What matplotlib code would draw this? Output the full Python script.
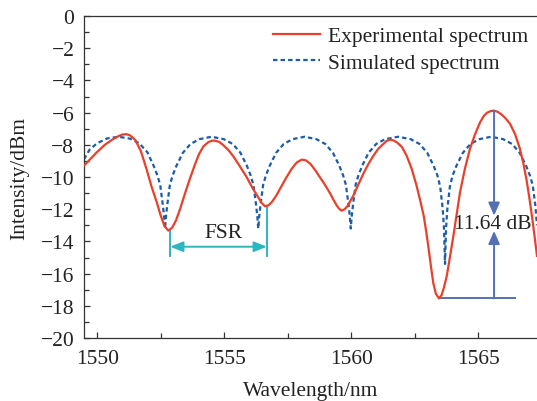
import matplotlib
matplotlib.use("Agg")
import matplotlib.pyplot as plt
from matplotlib.ticker import MultipleLocator
import numpy as np

# experimental spectrum
exp_x = [1549.48, 1549.75, 1549.98, 1550.3, 1550.63, 1550.85, 1551.0, 1551.15, 1551.3,
         1551.5, 1551.72, 1551.94, 1552.14, 1552.34, 1552.5, 1552.65, 1552.8, 1552.95,
         1553.1, 1553.26, 1553.45, 1553.65, 1553.83, 1554.0, 1554.18, 1554.36, 1554.5,
         1554.63, 1554.8, 1554.95, 1555.15, 1555.35, 1555.6, 1555.88, 1556.1, 1556.33,
         1556.47, 1556.6, 1556.75, 1556.9, 1557.05, 1557.19, 1557.42, 1557.65, 1557.85,
         1558.05, 1558.22, 1558.4, 1558.6, 1558.78, 1558.97, 1559.16, 1559.3, 1559.42,
         1559.52, 1559.62, 1559.74, 1559.85, 1560.08, 1560.27, 1560.47, 1560.67, 1560.87,
         1561.06, 1561.26, 1561.4, 1561.52, 1561.65, 1561.8, 1562.0, 1562.18, 1562.38,
         1562.57, 1562.72, 1562.85, 1562.95, 1563.04, 1563.14, 1563.23, 1563.33, 1563.45,
         1563.55, 1563.65, 1563.76, 1563.88, 1564.02, 1564.15, 1564.28, 1564.47, 1564.67,
         1564.87, 1565.07, 1565.22, 1565.35, 1565.5, 1565.62, 1565.76, 1565.9, 1566.07,
         1566.25, 1566.45, 1566.64, 1566.78, 1566.9, 1567.0, 1567.1, 1567.2, 1567.31]
exp_y = [-9.3, -8.85, -8.47, -8.0, -7.64, -7.45, -7.36, -7.34, -7.42,
         -7.7, -8.4, -9.5, -10.6, -11.55, -12.4, -13.05, -13.33, -13.15,
         -12.7, -12.0, -11.05, -10.1, -9.3, -8.6, -8.1, -7.85, -7.75,
         -7.74, -7.82, -8.0, -8.3, -8.7, -9.3, -10.0, -10.65, -11.24,
         -11.6, -11.82, -11.75, -11.5, -11.15, -10.75, -10.1, -9.5, -9.1,
         -8.92, -8.97, -9.2, -9.62, -10.05, -10.5, -11.0, -11.42, -11.75,
         -11.97, -12.09, -12.0, -11.8, -11.16, -10.5, -9.81, -9.2, -8.68,
         -8.25, -7.95, -7.75, -7.68, -7.72, -7.85, -8.15, -8.68, -9.5,
         -10.54, -11.5, -12.4, -13.4, -14.4, -15.6, -16.6, -17.25, -17.54,
         -17.35, -16.85, -16.13, -15.0, -13.65, -12.3, -10.95, -9.5, -8.26,
         -7.35, -6.6, -6.2, -6.0, -5.9, -5.88, -5.95, -6.1, -6.35,
         -6.7, -7.35, -8.26, -9.2, -10.2, -11.2, -12.3, -13.5, -14.9]

# simulated spectrum
sim_x = [1549.48, 1549.7, 1550.0, 1550.4, 1550.85, 1551.3, 1551.65, 1551.97, 1552.22,
         1552.37, 1552.48, 1552.58, 1552.63, 1552.67, 1552.71, 1552.76, 1552.86, 1552.97,
         1553.12, 1553.37, 1553.67, 1554.02, 1554.5, 1554.98, 1555.34, 1555.64, 1555.89,
         1556.04, 1556.15, 1556.25, 1556.30, 1556.34, 1556.38, 1556.43, 1556.53, 1556.64,
         1556.79, 1557.04, 1557.34, 1557.69, 1558.16, 1558.63, 1558.98, 1559.28, 1559.53,
         1559.68, 1559.79, 1559.89, 1559.94, 1559.98, 1560.02, 1560.07, 1560.17, 1560.28,
         1560.43, 1560.68, 1560.98, 1561.33, 1561.84, 1562.34, 1562.69, 1562.99, 1563.24,
         1563.39, 1563.50, 1563.60, 1563.65, 1563.69, 1563.73, 1563.78, 1563.88, 1563.99,
         1564.14, 1564.39, 1564.69, 1565.04, 1565.51, 1565.98, 1566.33, 1566.63, 1566.88,
         1567.03, 1567.14, 1567.24, 1567.31]
sim_y = [-8.9, -8.3, -7.9, -7.6, -7.5, -7.62, -7.9, -8.45, -9.3,
         -9.9, -10.5, -11.7, -12.4, -13.2, -12.4, -11.7, -10.5, -9.9,
         -9.3, -8.5, -7.95, -7.65, -7.5, -7.65, -7.95, -8.5, -9.3,
         -9.9, -10.5, -11.7, -12.4, -13.2, -12.4, -11.7, -10.5, -9.9,
         -9.3, -8.5, -7.95, -7.65, -7.5, -7.65, -7.95, -8.5, -9.3,
         -9.9, -10.5, -11.7, -12.4, -13.2, -12.4, -11.7, -10.5, -9.9,
         -9.3, -8.5, -7.95, -7.65, -7.5, -7.65, -7.95, -8.5, -9.3,
         -9.9, -10.6, -12.0, -13.2, -15.4, -13.2, -12.0, -10.6, -9.9,
         -9.3, -8.5, -7.95, -7.65, -7.5, -7.65, -7.95, -8.5, -9.3,
         -9.9, -10.5, -11.7, -13.0]

x_ticks = [1550, 1555, 1560, 1565]
y_ticks = list(range(-20, 1, 2))

plt.rcParams["font.family"] = ["Liberation Serif", "DejaVu Serif"]
plt.rcParams["font.size"] = 15.5

red = "#e8412b"
blue = "#1d5ca8"
cyan = "#2bb6c0"
ann = "#5470b4"

fig = plt.figure(figsize=(5.37, 4.02), dpi=100)
ax = fig.add_axes([0.1564, 0.1567, 0.8436, 0.801])

ax.plot(exp_x, exp_y, color=red, lw=1.6, label="Experimental spectrum", zorder=3)
ax.plot(sim_x, sim_y, color=blue, lw=1.6, dashes=(2.0, 1.4), label="Simulated spectrum", zorder=2)

ax.set_xlim(1549.48, 1567.31)
ax.set_ylim(-20, 0)
ax.set_xticks(x_ticks)
ax.set_yticks(y_ticks)
ax.xaxis.set_minor_locator(MultipleLocator(2.5))
ax.yaxis.set_minor_locator(MultipleLocator(1))
ax.tick_params(which="both", direction="in", color="#333333", labelcolor="#222222")
ax.tick_params(which="major", length=4.5, width=0.9)
ax.tick_params(which="minor", length=3.5, width=0.9)
ax.tick_params(axis="x", pad=8)
ax.tick_params(axis="y", pad=7)
ax.spines["right"].set_visible(False)
for s in ["left", "bottom", "top"]:
    ax.spines[s].set_color("#333333")
    ax.spines[s].set_linewidth(0.9)

ax.set_xlabel("Wavelength/nm", color="#222222", labelpad=9.5)
ax.set_ylabel("Intensity/dBm", color="#222222", labelpad=8)

ax.legend(loc="upper left", bbox_to_anchor=(0.417, 0.968), frameon=False,
          handlelength=2.2, handletextpad=0.35, labelspacing=0.3,
          borderpad=0, borderaxespad=0, fontsize=15.5, labelcolor="#222222")

# 11.64 dB annotation, from the experimental peak and deepest valley
ex = np.array(exp_x)
ey = np.array(exp_y)
i_pk = int(np.argmax(ey))
i_lo = int(np.argmin(ey))
x_pk, y_pk = ex[i_pk], ey[i_pk]
x_lo, y_lo = ex[i_lo], ey[i_lo]
y_txt = -12.9
aprops = dict(arrowstyle="-|>,head_length=0.5,head_width=0.22", color=ann, lw=1.4,
              shrinkA=0, shrinkB=0)
ax.annotate("", xy=(x_pk, y_txt + 0.5), xytext=(x_pk, y_pk), arrowprops=aprops)
ax.annotate("", xy=(x_pk, y_txt - 0.45), xytext=(x_pk, y_lo), arrowprops=aprops)
ax.plot([x_lo, x_pk + 0.82], [y_lo, y_lo], color=ann, lw=1.4)
ax.text(x_pk - 0.07, y_txt, "11.64 dB", ha="center", va="center", fontsize=15.5,
        color="#222222", zorder=5)

# FSR annotation between the first two experimental dips
m1 = (ex > 1552) & (ex < 1554)
m2 = (ex > 1555.5) & (ex < 1557.5)
x1 = ex[m1][np.argmin(ey[m1])] + 0.07
y1 = ey[m1].min()
x2 = ex[m2][np.argmin(ey[m2])] + 0.08
y2 = ey[m2].min()
y_bot = -14.9
y_arr = -14.33
ax.plot([x1, x1], [y1, y_bot], color=cyan, lw=1.4)
ax.plot([x2, x2], [y2, y_bot], color=cyan, lw=1.4)
ax.annotate("", xy=(x1, y_arr), xytext=(x2, y_arr),
            arrowprops=dict(arrowstyle="<|-|>,head_length=0.5,head_width=0.2",
                            color=cyan, lw=1.4, shrinkA=0, shrinkB=0))
ax.text((x1 + x2) / 2 + 0.2, -13.45, "FSR", ha="center", va="center", fontsize=15.5,
        color="#222222")

fig.savefig("out.png", dpi=100)
